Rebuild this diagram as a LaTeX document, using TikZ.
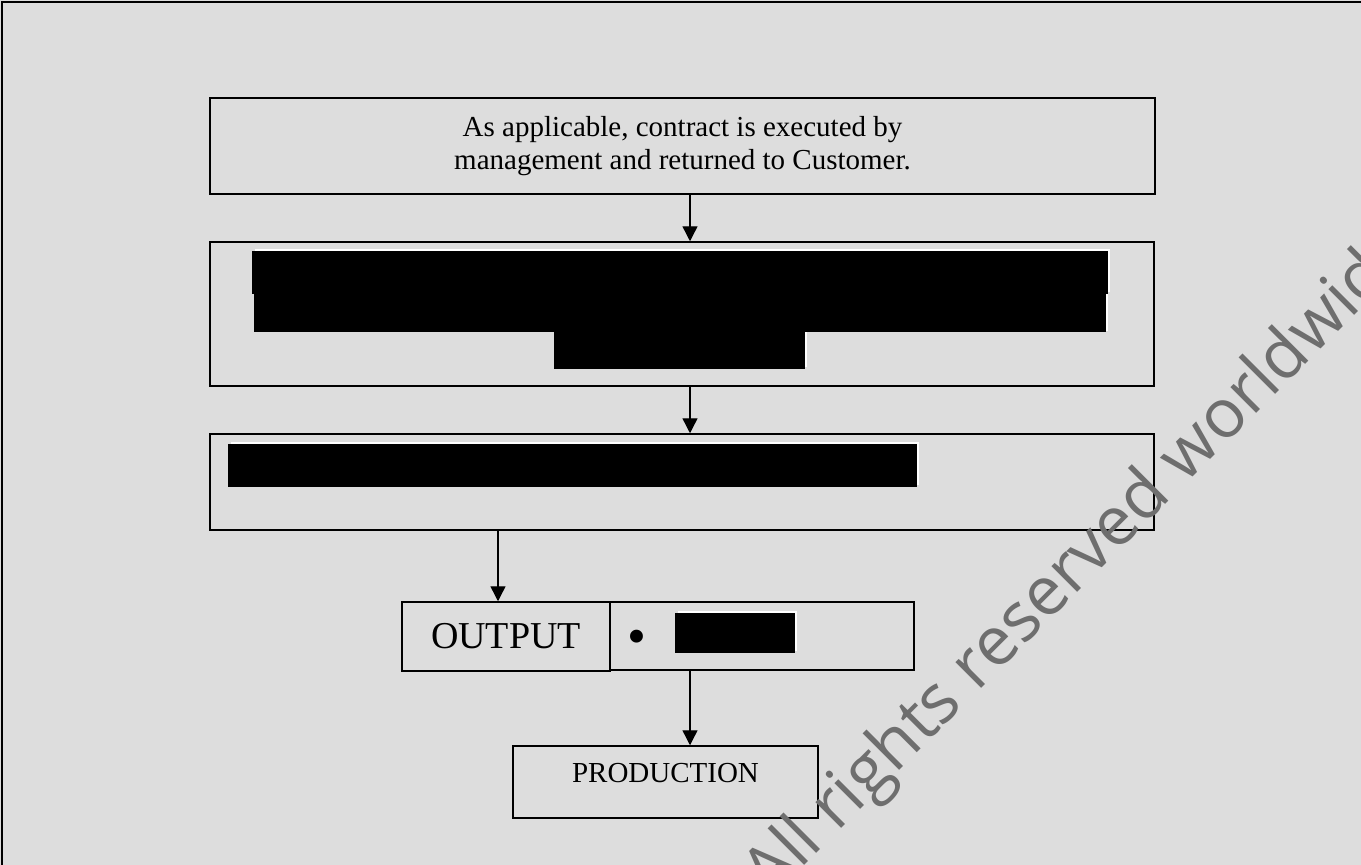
\documentclass[tikz,border=0pt]{standalone}
\usepackage{fontspec}
\setmainfont{Liberation Serif}
\newfontfamily\wmfont{Open Sans}
\usetikzlibrary{arrows.meta,calc}
\definecolor{bg}{RGB}{221,221,221}
\definecolor{wm}{RGB}{110,110,110}
\begin{document}
\begin{tikzpicture}[x=1pt,y=-1pt,
  box/.style={draw=black,line width=1.5pt,rectangle,inner sep=0pt},
  arr/.style={-{Triangle[length=15pt,width=15pt]},line width=1.4pt},
  redact/.style={fill=black},
  halo/.style={fill=white}]
\useasboundingbox (0,0) rectangle (1361,865);
\clip (0,0) rectangle (1361,865);
\fill[bg] (0,0) rectangle (1361,865);
\draw[line width=2.5pt] (2,2) rectangle (1380,880);

\node[box,minimum width=945pt,minimum height=96pt,align=center,font=\fontsize{29}{33}\selectfont] (b1) at (682.5,146) {As applicable, contract is executed by\\management and returned to Customer.};
\node[box,minimum width=944pt,minimum height=144pt] (b2) at (682,314) {};
\node[box,minimum width=944pt,minimum height=96pt] (b3) at (682,482) {};
\node[box,minimum width=208pt,minimum height=69pt,font=\fontsize{38}{44}\selectfont] (out) at (506,636.5) {OUTPUT};
\node[box,minimum width=304pt,minimum height=68pt] (outr) at (762,636) {};
\node[font=\fontsize{54}{60}\selectfont,inner sep=0pt] (bul) at (637,642) {•};
\node[box,minimum width=305pt,minimum height=72pt,label={[font=\fontsize{29}{33}\selectfont,yshift=9pt]center:PRODUCTION}] (prod) at (665.5,782) {};

% redactions
\fill[halo] (255,249) rectangle (1110,292);
\fill[halo] (257,292) rectangle (1108,331);
\fill[halo] (557,331) rectangle (807,367);
\fill[redact] (252,251) rectangle (1108,294);
\fill[redact] (254,294) rectangle (1106,332);
\fill[redact] (554,332) rectangle (805,369);
\fill[halo] (231,442) rectangle (919,485);
\fill[redact] (228,444) rectangle (917,487);
\fill[halo] (678,611) rectangle (797,651);
\fill[redact] (675,613) rectangle (795,653);

% connectors
\coordinate (ca) at (690,0);
\coordinate (cb) at (498,0);
\draw[arr] (b1.south -| ca) -- (b2.north -| ca);
\draw[arr] (b2.south -| ca) -- (b3.north -| ca);
\draw[arr] (b3.south -| cb) -- (out.north -| cb);
\draw[arr] (outr.south -| ca) -- (prod.north -| ca);

% watermark
\node[anchor=base west,rotate=45,text=wm,font=\wmfont\fontsize{68}{72}\selectfont,inner sep=0pt] (wmk) at (770,900) {All rights reserved worldwide};
\end{tikzpicture}
\end{document}
